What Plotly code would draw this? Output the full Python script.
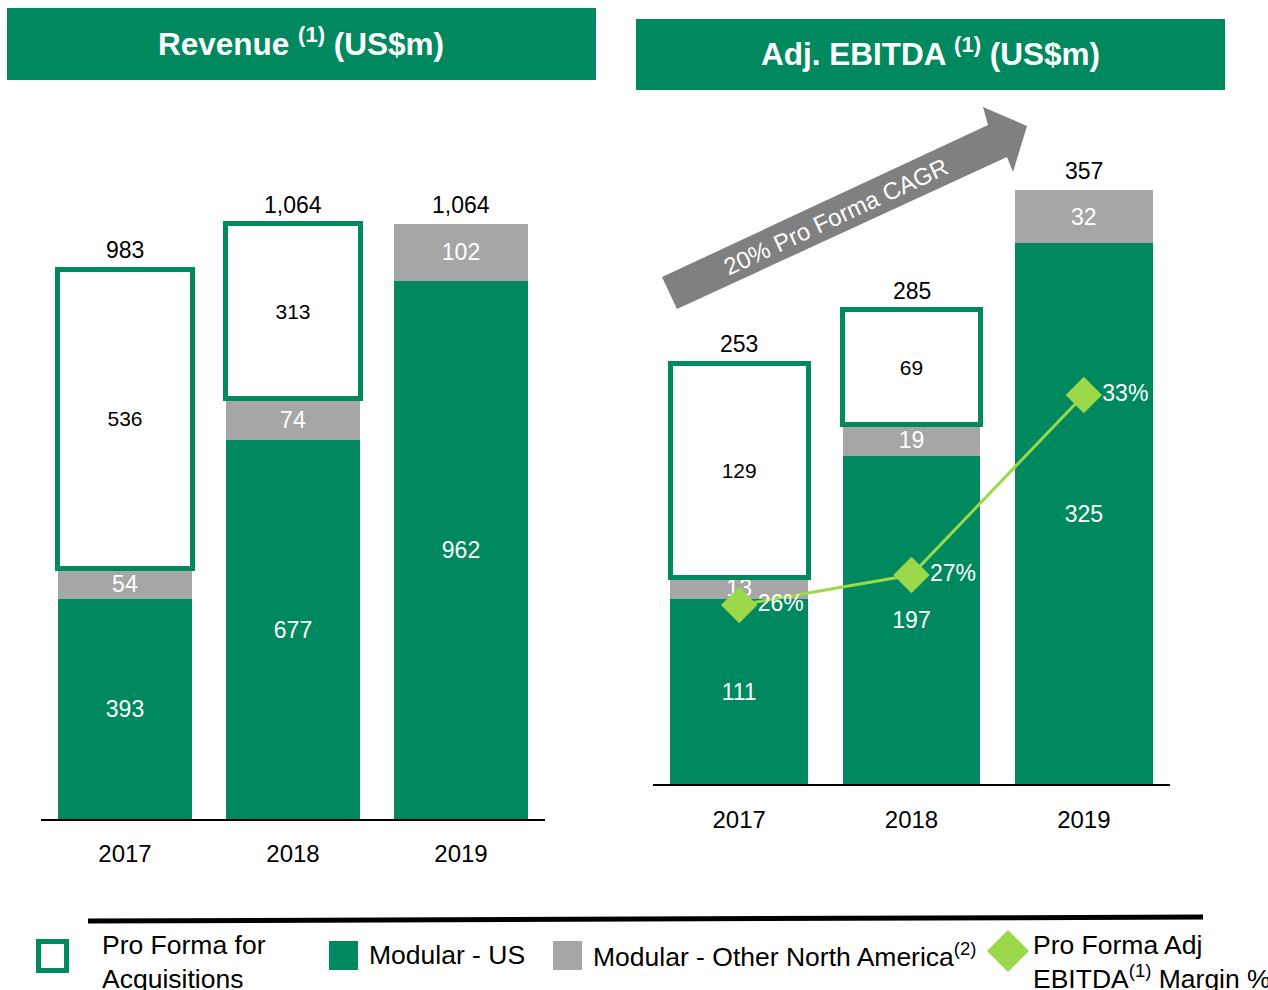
import plotly.graph_objects as go

# ---------------- data ----------------
years = ["2017", "2018", "2019"]

rev_us = [393, 677, 962]
rev_other = [54, 74, 102]
rev_proforma = [536, 313, None]
rev_total = [983, 1064, 1064]

ebitda_us = [111, 197, 325]
ebitda_other = [13, 19, 32]
ebitda_proforma = [129, 69, None]
ebitda_total = [253, 285, 357]

margin_pct = [26, 27, 33]
margin_labels = ["26%", "27%", "33%"]

# ---------------- style ----------------
W, H = 1268, 990
GREEN = "#00895E"
GREY = "#A6A6A6"
LIME = "#9BD84A"
ARROW = "#808080"
FONT = "Liberation Sans, Arial, sans-serif"
LBL = 23


def px(x):
    return x / W


def py(y):
    return 1 - y / H


def fmt(v):
    return "" if v is None else f"{v:,}"


fig = go.Figure()
annotations = []


def add_stack(xa, ya, us, other, pf, total):
    fig.add_trace(go.Bar(
        x=years, y=us, xaxis=xa, yaxis=ya, width=0.8,
        marker=dict(color=GREEN, line=dict(width=0)),
        text=[fmt(v) for v in us], textposition="inside", insidetextanchor="middle",
        textangle=0, constraintext="none", textfont=dict(color="white", size=LBL, family=FONT),
        showlegend=False, hoverinfo="skip"))
    fig.add_trace(go.Bar(
        x=years, y=other, xaxis=xa, yaxis=ya, width=0.8,
        marker=dict(color=GREY, line=dict(width=0)),
        text=[fmt(v) for v in other], textposition="inside", insidetextanchor="middle",
        textangle=0, constraintext="none", textfont=dict(color="white", size=LBL, family=FONT),
        showlegend=False, hoverinfo="skip"))
    pf_x = [x for x, v in zip(years, pf) if v is not None]
    pf_y = [v for v in pf if v is not None]
    fig.add_trace(go.Bar(
        x=pf_x, y=pf_y, xaxis=xa, yaxis=ya, width=0.8,
        marker=dict(color="white", line=dict(width=5, color=GREEN)),
        text=[fmt(v) for v in pf_y], textposition="inside", insidetextanchor="middle",
        textangle=0, constraintext="none", textfont=dict(color="black", size=21, family=FONT),
        showlegend=False, hoverinfo="skip"))
    for i, t in enumerate(total):
        annotations.append(dict(xref=xa, yref=ya, x=i, y=t, yanchor="bottom", xanchor="center",
                                yshift=4, text=fmt(t), showarrow=False,
                                font=dict(color="black", size=LBL, family=FONT)))


add_stack("x", "y", rev_us, rev_other, rev_proforma, rev_total)
add_stack("x2", "y2", ebitda_us, ebitda_other, ebitda_proforma, ebitda_total)

fig.add_trace(go.Scatter(
    x=years, y=margin_pct, xaxis="x2", yaxis="y3",
    mode="lines+markers+text",
    line=dict(color=LIME, width=3),
    marker=dict(symbol="diamond", size=28, color=LIME),
    text=margin_labels, textposition="middle right",
    textfont=dict(color="white", size=LBL, family=FONT),
    showlegend=False, hoverinfo="skip"))

left_scale = 550 / 983      # px per unit
right_scale = 421 / 253
axis_common = dict(type="category", range=[-0.5, 2.5], showline=True, linecolor="black",
                   linewidth=2, ticks="", showgrid=False, zeroline=False,
                   tickfont=dict(size=24, color="black", family=FONT), fixedrange=True)

fig.update_layout(
    width=W, height=H, autosize=False,
    margin=dict(l=0, r=0, t=0, b=0),
    paper_bgcolor="white", plot_bgcolor="rgba(0,0,0,0)",
    barmode="stack", showlegend=False,
    font=dict(family=FONT, color="black"),
    xaxis=dict(domain=[px(41), px(545)], anchor="y", ticklabelstandoff=12, **axis_common),
    yaxis=dict(domain=[py(819), py(100)], range=[0, 719 / left_scale], visible=False, anchor="x"),
    xaxis2=dict(domain=[px(653), px(1170)], anchor="y2", ticklabelstandoff=13, **axis_common),
    yaxis2=dict(domain=[py(784), py(100)], range=[0, 684 / right_scale], visible=False, anchor="x2"),
    yaxis3=dict(overlaying="y2", anchor="x2", range=[26 - (784 - 605) / 30, 26 + (605 - 100) / 30],
                visible=False),
)

shapes = []

# title banners
shapes.append(dict(type="rect", xref="paper", yref="paper", x0=px(7), x1=px(596), y0=py(80), y1=py(8),
                   fillcolor=GREEN, line=dict(width=0), layer="below"))
shapes.append(dict(type="rect", xref="paper", yref="paper", x0=px(636), x1=px(1225), y0=py(90), y1=py(19),
                   fillcolor=GREEN, line=dict(width=0), layer="below"))
annotations.append(dict(xref="paper", yref="paper", x=px(301), y=py(42), xanchor="center", yanchor="middle",
                        text="<b>Revenue <sup>(1)</sup> (US$m)</b>", showarrow=False,
                        font=dict(size=31.5, color="white", family=FONT)))
annotations.append(dict(xref="paper", yref="paper", x=px(930), y=py(52), xanchor="center", yanchor="middle",
                        text="<b>Adj. EBITDA <sup>(1)</sup> (US$m)</b>", showarrow=False,
                        font=dict(size=31.5, color="white", family=FONT)))

# CAGR arrow
pts = [(662, 277), (988, 125), (983, 107), (1027, 126), (1013, 172), (1007, 157), (677, 309)]
path = "M " + " L ".join(f"{px(a):.5f},{py(b):.5f}" for a, b in pts) + " Z"
shapes.append(dict(type="path", xref="paper", yref="paper", path=path, fillcolor=ARROW,
                   line=dict(width=0), layer="above"))
annotations.append(dict(xref="paper", yref="paper", x=px(836), y=py(217), xanchor="center", yanchor="middle",
                        text="20% Pro Forma CAGR", textangle=-25, showarrow=False,
                        font=dict(size=24, color="white", family=FONT)))

# legend separator line
shapes.append(dict(type="line", xref="paper", yref="paper", x0=px(88), y0=py(921), x1=px(1203), y1=py(917),
                   line=dict(color="black", width=5)))

# legend markers
shapes.append(dict(type="rect", xref="paper", yref="paper", x0=px(38.5), x1=px(66.5), y0=py(970.5), y1=py(941.5),
                   fillcolor="white", line=dict(color=GREEN, width=5)))
shapes.append(dict(type="rect", xref="paper", yref="paper", x0=px(329), x1=px(358), y0=py(970), y1=py(941),
                   fillcolor=GREEN, line=dict(width=0)))
shapes.append(dict(type="rect", xref="paper", yref="paper", x0=px(553), x1=px(582), y0=py(970), y1=py(941),
                   fillcolor=GREY, line=dict(width=0)))
dpts = [(1008, 930), (1029, 951), (1008, 972), (987, 951)]
dpath = "M " + " L ".join(f"{px(a):.5f},{py(b):.5f}" for a, b in dpts) + " Z"
shapes.append(dict(type="path", xref="paper", yref="paper", path=dpath, fillcolor=LIME, line=dict(width=0)))

legend_font = dict(size=26.5, color="black", family=FONT)
annotations.append(dict(xref="paper", yref="paper", x=px(100), y=py(962), xanchor="left", yanchor="middle",
                        align="left", text="Pro Forma for<br>Acquisitions", showarrow=False, font=legend_font))
annotations.append(dict(xref="paper", yref="paper", x=px(367), y=py(955), xanchor="left", yanchor="middle",
                        align="left", text="Modular - US", showarrow=False, font=legend_font))
annotations.append(dict(xref="paper", yref="paper", x=px(591), y=py(955), xanchor="left", yanchor="middle",
                        align="left", text="Modular - Other North America<sup>(2)</sup>", showarrow=False,
                        font=legend_font))
annotations.append(dict(xref="paper", yref="paper", x=px(1031), y=py(962), xanchor="left", yanchor="middle",
                        align="left", text="Pro Forma Adj<br>EBITDA<sup>(1)</sup> Margin %", showarrow=False,
                        font=legend_font))

fig.update_layout(shapes=shapes, annotations=annotations)

fig.write_html("out.html", config={"displayModeBar": False},
               post_script="document.body.style.margin='0';")
